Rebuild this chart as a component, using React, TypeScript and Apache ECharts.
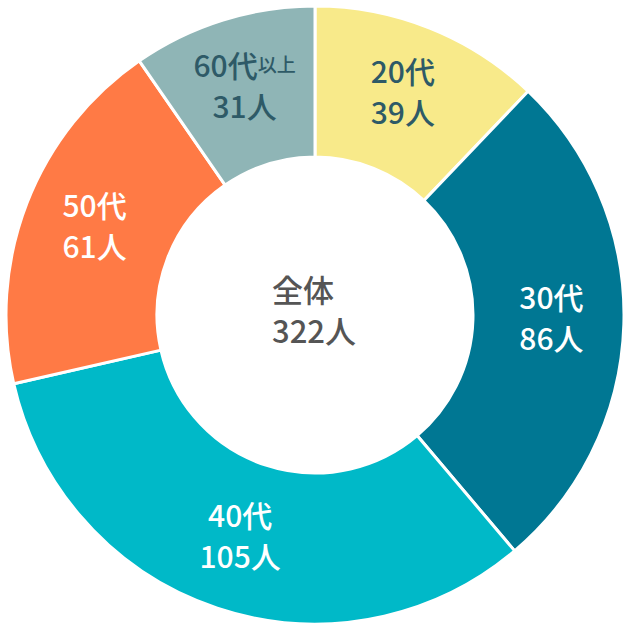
import React, { useEffect, useRef } from 'react';
import * as echarts from 'echarts';

const ageGroups = ['20代', '30代', '40代', '50代', '60代'];
const ageSuffixes = ['', '', '', '', '以上'];
const counts = [39, 86, 105, 61, 31];
const sliceColors = ['#f8ea8a', '#007793', '#00b9c8', '#ff7a45', '#8fb5b6'];
const labelColors = ['#2e5a67', '#ffffff', '#ffffff', '#ffffff', '#2e5a67'];
const centerTitle = '全体';
const unit = '人';

const FONT = '"Noto Sans CJK JP", "Noto Sans", sans-serif';

const App: React.FC = () => {
  const chartRef = useRef<HTMLDivElement>(null);

  useEffect(() => {
    document.body.style.margin = '0';
    if (!chartRef.current) return;
    const chart = echarts.init(chartRef.current, undefined, { renderer: 'svg' });
    const total = counts.reduce((a, b) => a + b, 0);

    const option: any = {
      animation: false,
      backgroundColor: '#ffffff',
      graphic: [
        {
          type: 'text',
          left: 'center',
          top: 268,
          style: {
            text: `${centerTitle}\n${total}${unit}`,
            fill: '#555555',
            font: `500 31px ${FONT}`,
            lineHeight: 41,
            align: 'center'
          }
        }
      ],
      series: [
        {
          type: 'pie',
          center: [315, 315],
          radius: [158, 309],
          startAngle: 90,
          clockwise: true,
          avoidLabelOverlap: false,
          itemStyle: { borderColor: '#ffffff', borderWidth: 3 },
          label: {
            show: true,
            position: 'inside',
            offset: [0, -5],
            fontFamily: FONT,
            formatter: (p: any) => {
              const i = p.dataIndex;
              const sfx = ageSuffixes[i] ? `{s|${ageSuffixes[i]}}` : '';
              return `{a|${ageGroups[i]}}${sfx}\n{a|${counts[i]}${unit}}`;
            },
            rich: {
              a: { fontSize: 30, lineHeight: 41, fontFamily: FONT, fontWeight: 500 },
              s: { fontSize: 19, lineHeight: 41, fontFamily: FONT, fontWeight: 500 }
            }
          },
          labelLine: { show: false },
          emphasis: { disabled: true },
          data: counts.map((v, i) => ({
            name: ageGroups[i] + ageSuffixes[i],
            value: v,
            itemStyle: { color: sliceColors[i] },
            label: {
              color: labelColors[i],
              rich: {
                a: { color: labelColors[i] },
                s: { color: labelColors[i] }
              }
            }
          }))
        }
      ]
    };

    chart.setOption(option);
    return () => chart.dispose();
  }, []);

  return <div ref={chartRef} style={{ width: 628, height: 628 }} />;
};

export default App;
